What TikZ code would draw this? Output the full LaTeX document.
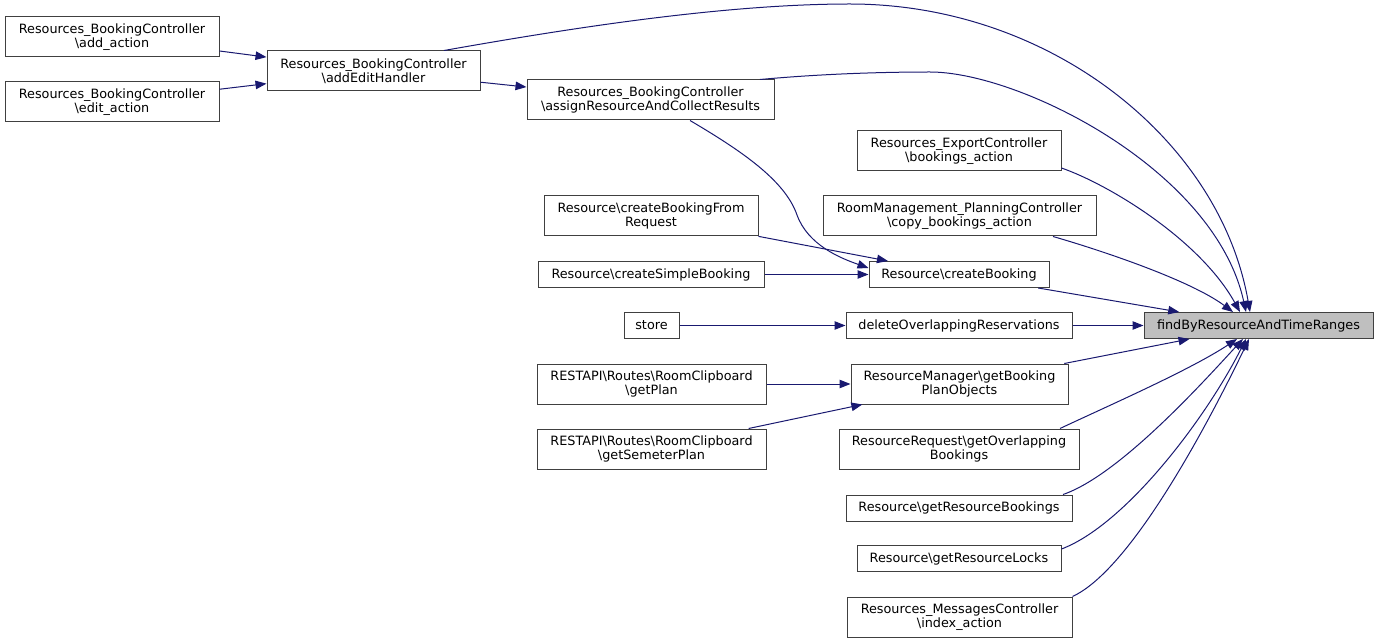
\documentclass[tikz,border=0pt]{standalone}
\usepackage{fontspec}
\setmainfont{DejaVu Sans}
\usetikzlibrary{arrows.meta}
\definecolor{edgec}{HTML}{191970}
\definecolor{boxc}{HTML}{404040}
\definecolor{hlfill}{HTML}{BFBFBF}
\tikzset{
  fn/.style={draw=boxc, fill=white, line width=1pt, inner sep=0pt, align=center,
    font=\fontsize{12.8}{14.5}\selectfont, minimum height=40pt},
  fn1/.style={fn, minimum height=26pt},
  call/.style={draw=edgec, line width=1pt, -{Triangle[length=11pt,width=8.5pt]}},
}
\begin{document}
\begin{tikzpicture}[x=1pt,y=-1pt]
\useasboundingbox (0,0) rectangle (1379,644);
% nodes
\node[fn, minimum width=214pt] (add) at (112,37) {Resources\_BookingController\\\textbackslash add\_action};
\node[fn, minimum width=214pt] (edit) at (112,102) {Resources\_BookingController\\\textbackslash edit\_action};
\node[fn, minimum width=213pt] (addedit) at (373.5,71) {Resources\_BookingController\\\textbackslash addEditHandler};
\node[fn, minimum width=247pt] (assign) at (650.5,100) {Resources\_BookingController\\\textbackslash assignResourceAndCollectResults};
\node[fn, minimum width=204pt] (bookings) at (959,151) {Resources\_ExportController\\\textbackslash bookings\_action};
\node[fn, minimum width=273pt] (copy) at (959.5,216) {RoomManagement\_PlanningController\\\textbackslash copy\_bookings\_action};
\node[fn, minimum width=214pt] (cbfr) at (651,216) {Resource\textbackslash createBookingFrom\\Request};
\node[fn1, minimum width=226pt] (simple) at (651,274.5) {Resource\textbackslash createSimpleBooking};
\node[fn1, minimum width=180pt] (cb) at (959,274.5) {Resource\textbackslash createBooking};
\node[fn1, minimum width=55pt] (store) at (651.5,325.5) {store};
\node[fn1, minimum width=226pt] (del) at (959,325.5) {deleteOverlappingReservations};
\node[fn1, minimum width=229pt, fill=hlfill] (find) at (1258.5,325.5) {findByResourceAndTimeRanges};
\node[fn, minimum width=217pt] (gbpo) at (959.5,384) {ResourceManager\textbackslash getBooking\\PlanObjects};
\node[fn, minimum width=229pt] (getplan) at (651.5,384) {RESTAPI\textbackslash Routes\textbackslash RoomClipboard\\\textbackslash getPlan};
\node[fn, minimum width=229pt] (getsem) at (651.5,449) {RESTAPI\textbackslash Routes\textbackslash RoomClipboard\\\textbackslash getSemeterPlan};
\node[fn, minimum width=240pt] (overl) at (959,449) {ResourceRequest\textbackslash getOverlapping\\Bookings};
\node[fn1, minimum width=226pt] (grb) at (959,508) {Resource\textbackslash getResourceBookings};
\node[fn1, minimum width=204pt] (grl) at (959,558.5) {Resource\textbackslash getResourceLocks};
\node[fn, minimum width=225pt] (index) at (959.5,617) {Resources\_MessagesController\\\textbackslash index\_action};
% straight edges
\draw[call] (add) -- (addedit);
\draw[call] (edit) -- (addedit);
\draw[call] (addedit) -- (assign);
\draw[call] (cbfr) -- (cb);
\draw[call] (simple) -- (cb);
\draw[call] (store) -- (del);
\draw[call] (getplan) -- (gbpo);
\draw[call] (getsem) -- (gbpo);
\draw[call] (cb) -- (find);
\draw[call] (del) -- (find);
\draw[call] (gbpo) -- (find);
% curved edges
\draw[call] ([xshift=39.5pt]assign.south) .. controls (740,150) and (785,180) .. (797,215)
  .. controls (808,245) and (840,258) .. ([yshift=6.5pt]cb.west);
\draw[call] ([xshift=70.5pt]addedit.north) .. controls (560,30) and (720,4) .. (850,4)
  .. controls (1050,4) and (1220,140) .. ([xshift=-8.5pt]find.north);
\draw[call] ([xshift=109.5pt]assign.north) .. controls (820,74) and (880,72) .. (930,72)
  .. controls (1020,72) and (1215,170) .. ([xshift=-12.5pt]find.north);
\draw[call] ([yshift=-17pt]bookings.east) .. controls (1110,185) and (1200,240) .. ([xshift=-18.5pt]find.north);
\draw[call] ([xshift=93.5pt]copy.south) .. controls (1100,250) and (1190,280) .. ([xshift=-25.5pt]find.north);
\draw[call] ([xshift=101pt]overl.north) .. controls (1110,405) and (1190,370) .. ([xshift=-21.5pt]find.south);
\draw[call] ([xshift=104pt]grb.north) .. controls (1120,475) and (1205,380) .. ([xshift=-15.5pt]find.south);
\draw[call] ([yshift=9.5pt]grl.east) .. controls (1125,525) and (1205,420) .. ([xshift=-12.5pt]find.south);
\draw[call] (index.north east) .. controls (1130,570) and (1205,430) .. ([xshift=-9.5pt]find.south);
\end{tikzpicture}
\end{document}
